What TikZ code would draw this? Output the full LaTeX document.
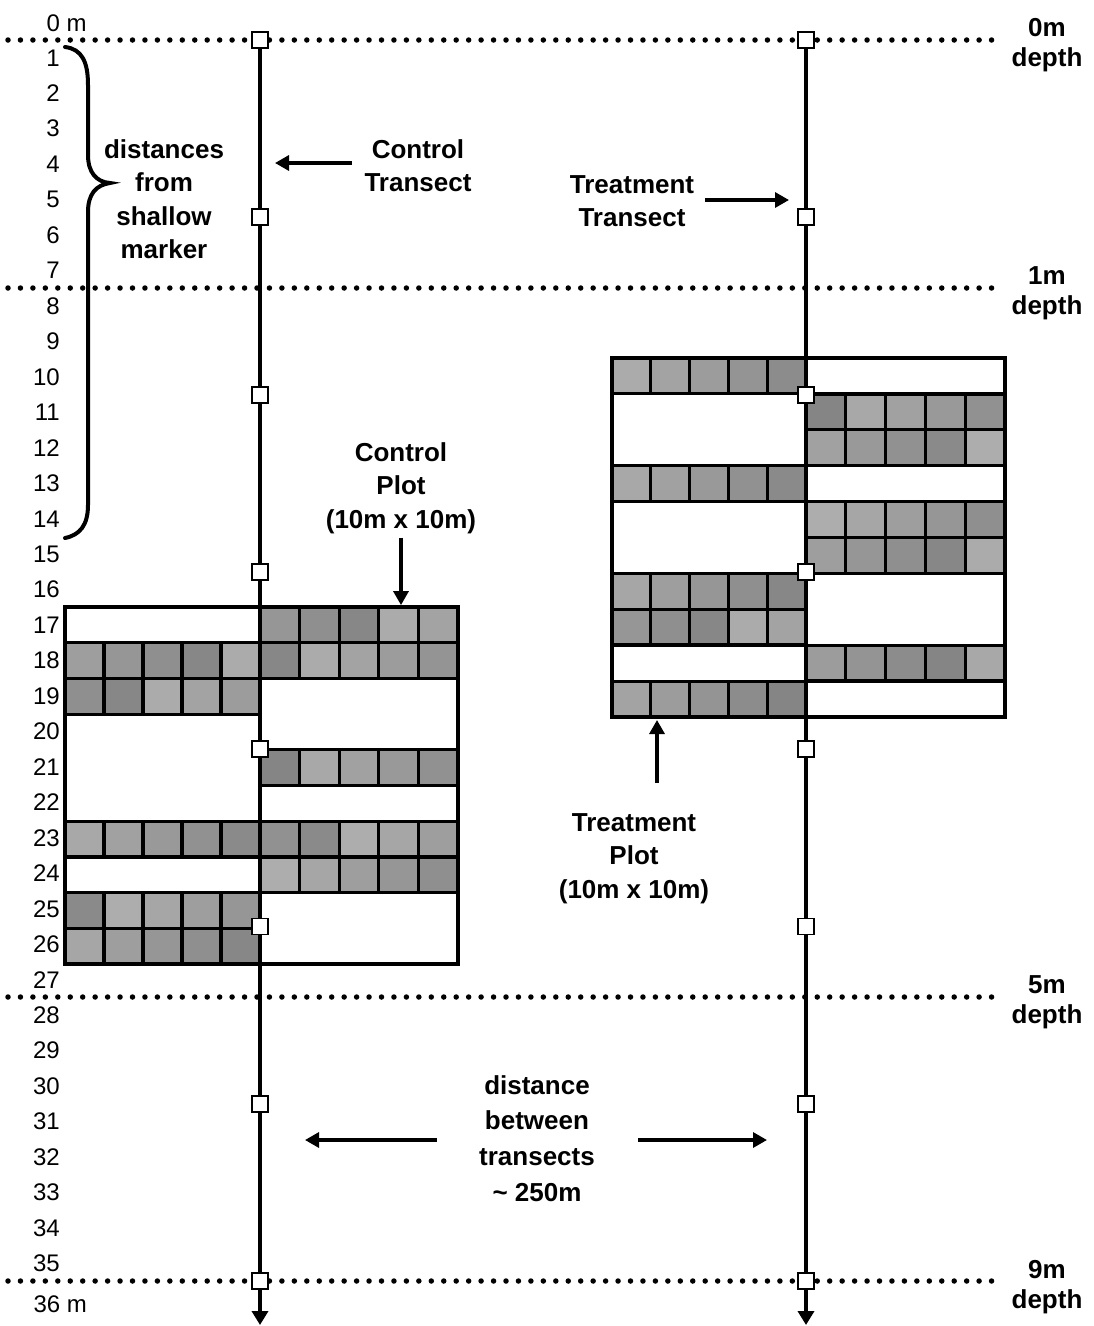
\documentclass[tikz,border=0pt]{standalone}
\usepackage{fontspec}
\setmainfont{Liberation Sans}
\usetikzlibrary{arrows.meta}
\newcommand{\cellrow}[4]{% x0, cell width, ytop, row id
  \foreach \i in {0,...,4}{
    \pgfmathsetmacro\shd{int(32+mod(\i*37+#4*23,17))}
    \draw[cellbox, fill=black!\shd] ({#1+\i*#2},{#3}) rectangle ++(#2,35.7);
  }}
\begin{document}
\begin{tikzpicture}[x=1pt,y=-1pt,
  dotline/.style={line width=5.5pt, line cap=round, dash pattern=on 0pt off 12.45pt},
  transect/.style={line width=4pt, -{Triangle[length=14pt,width=16pt]}},
  marker/.style={draw, fill=white, line width=1.8pt, minimum size=16pt, inner sep=0pt},
  lbl/.style={font=\fontsize{26}{33.5}\selectfont\bfseries, align=center, inner sep=0pt, anchor=north},
  dlbl/.style={font=\fontsize{26}{30}\selectfont\bfseries, align=center, inner sep=0pt, anchor=north},
  num/.style={font=\fontsize{24}{28}\selectfont, inner sep=0pt, anchor=east},
  arr/.style={line width=3.2pt, -{Triangle[length=14pt,width=15pt]}},
  cellbox/.style={draw=black, line width=3.2pt},
  plotframe/.style={draw=black, line width=3.8pt, inner sep=0pt},
  brace/.style={line width=4pt, line cap=round}]

\useasboundingbox (0,0) rectangle (1093,1326);

% depth lines
\draw[dotline] (8,40) -- (995,40);
\draw[dotline] (8,288) -- (995,288);
\draw[dotline] (8,997) -- (995,997);
\draw[dotline] (8,1281) -- (995,1281);

% distance scale
\node[num, anchor=base west] (n0) at (46.5,31) {0 m};
\foreach \n in {1,...,35} \node[num] (n\n) at (60,{22.3+35.46*\n}) {\n};
\node[num, anchor=base west] (n36) at (33.3,1312) {36 m};

% brace
\draw[brace] (65,47) .. controls (82,49) and (88,62) .. (88,85) -- (88,155)
  .. controls (88,172) and (96,182) .. (110,183)
  .. controls (96,185) and (88,194) .. (88,212) -- (88,505)
  .. controls (88,525) and (80,535) .. (65,538);
\node[lbl] (dist) at (164,139) {distances\\from\\shallow\\marker};

% control plot (rows 16-26 m)
\cellrow{65}{39}{{607+1*35.7}}{1}
\cellrow{65}{39}{{607+2*35.7}}{2}
\cellrow{65}{39}{{607+6*35.7}}{6}
\cellrow{65}{39}{{607+8*35.7}}{8}
\cellrow{65}{39}{{607+9*35.7}}{9}
\cellrow{260}{39.6}{{607+0*35.7}}{10}
\cellrow{260}{39.6}{{607+1*35.7}}{11}
\cellrow{260}{39.6}{{607+4*35.7}}{14}
\cellrow{260}{39.6}{{607+6*35.7}}{16}
\cellrow{260}{39.6}{{607+7*35.7}}{17}
\node[plotframe, minimum width=393pt, minimum height=357pt] (cplot) at (261.5,785.5) {};

% treatment plot (rows 9-19 m)
\cellrow{612}{38.8}{{358+0*35.9}}{20}
\cellrow{612}{38.8}{{358+3*35.9}}{23}
\cellrow{612}{38.8}{{358+6*35.9}}{26}
\cellrow{612}{38.8}{{358+7*35.9}}{27}
\cellrow{612}{38.8}{{358+9*35.9}}{29}
\cellrow{806}{39.8}{{358+1*35.9}}{31}
\cellrow{806}{39.8}{{358+2*35.9}}{32}
\cellrow{806}{39.8}{{358+4*35.9}}{34}
\cellrow{806}{39.8}{{358+5*35.9}}{35}
\cellrow{806}{39.8}{{358+8*35.9}}{38}
\node[plotframe, minimum width=393pt, minimum height=359pt] (tplot) at (808.5,537.5) {};

% transects
\coordinate (ctop) at (260,40);
\coordinate (cend) at (260,1325);
\coordinate (ttop) at (806,40);
\coordinate (tend) at (806,1325);
\draw[transect] (ctop) -- (cend);
\draw[transect] (ttop) -- (tend);
\foreach \k in {0,...,7} {
  \node[marker] (c\k) at (260,{40+177.3*\k}) {};
  \node[marker] (t\k) at (806,{40+177.3*\k}) {};
}

% depth labels
\node[dlbl] (d0) at (1047,18) {0m\\depth};
\node[dlbl] (d1) at (1047,266) {1m\\depth};
\node[dlbl] (d5) at (1047,975) {5m\\depth};
\node[dlbl] (d9) at (1047,1260) {9m\\depth};

% transect labels
\node[lbl] (ctl) at (418,139) {Control\\Transect};
\coordinate (ctA) at (352,163);
\coordinate (ctB) at (275,163);
\draw[arr] (ctA) -- (ctB);

\node[lbl] (ttl) at (632,175) {Treatment\\Transect};
\coordinate (ttA) at (705,200);
\coordinate (ttB) at (789,200);
\draw[arr] (ttA) -- (ttB);

% plot labels
\node[lbl] (cpl) at (401,442) {Control\\Plot\\(10m x 10m)};
\draw[arr, shorten <=4pt] (cpl.south) -- (cpl.south |- cplot.north);

\node[lbl] (tpl) at (634,813) {Treatment\\Plot\\(10m x 10m)};
\coordinate (tpA) at (657,783);
\coordinate (tpB) at (657,720);
\draw[arr] (tpA) -- (tpB);

% distance between transects
\node[lbl, font=\fontsize{26}{35.7}\selectfont\bfseries] (btw) at (537,1075) {distance\\between\\transects\\\textasciitilde\ 250m};
\coordinate (bL1) at (437,1140);
\coordinate (bL2) at (305,1140);
\coordinate (bR1) at (638,1140);
\coordinate (bR2) at (767,1140);
\draw[arr] (bL1) -- (bL2);
\draw[arr] (bR1) -- (bR2);
\end{tikzpicture}
\end{document}
